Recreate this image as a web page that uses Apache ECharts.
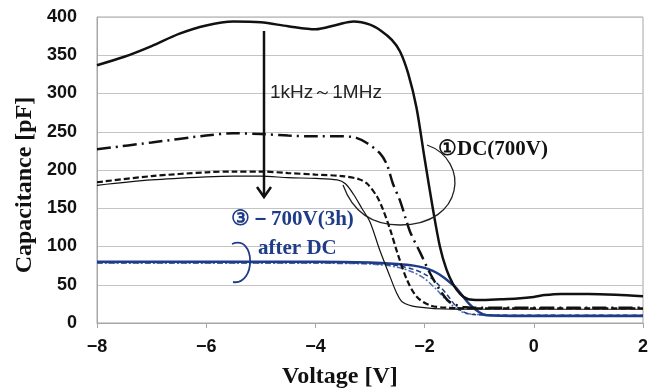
<!DOCTYPE html>
<html>
<head>
<meta charset="utf-8">
<script src="https://cdn.jsdelivr.net/npm/echarts@6/dist/echarts.min.js"></script>
<style>
  html, body { margin: 0; padding: 0; background: #fff; }
  #chart { width: 665px; height: 390px; }
</style>
</head>
<body>
<div id="chart"></div>
<script>
// C-V curves, [voltage V, capacitance pF]
const dcThick = [[-8,337],[-7.5,348],[-7,362],[-6.5,378],[-6,389],[-5.5,394],[-5,393],[-4.5,388],[-4,384],[-3.6,390],[-3.3,394],[-3,390],[-2.8,382],[-2.6,370],[-2.45,355],[-2.3,326],[-2.15,282],[-2,215],[-1.85,150],[-1.72,100],[-1.6,70],[-1.48,51],[-1.35,38],[-1.2,31],[-1,30],[-0.6,31],[-0.3,32],[0,34],[0.2,36.5],[0.5,38],[1,38],[1.5,37],[2,35]];
const dcDashDot = [[-8,227],[-7,236],[-6,245],[-5.5,248],[-5,247],[-4.5,245],[-4,244],[-3.5,244],[-3.25,242],[-3.05,235],[-2.82,222],[-2.69,207],[-2.58,182],[-2.45,160],[-2.27,120],[-2.08,92],[-1.9,65],[-1.72,43],[-1.55,28],[-1.3,21],[-1,20],[0,20],[1,20],[2,20]];
const dcDashed = [[-8,184],[-7,192],[-6,197],[-5.5,198],[-5,198],[-4.5,196],[-4,194],[-3.5,192],[-3.2,188],[-3.05,182],[-2.87,165],[-2.76,148],[-2.63,122],[-2.5,92],[-2.32,56],[-2.14,34],[-1.9,23],[-1.6,20],[-1,19],[2,19]];
const dcThin = [[-8,180],[-7,187],[-6,191],[-5.5,192],[-5,192],[-4.5,190],[-4,189],[-3.6,187],[-3.45,182],[-3.3,168],[-3.15,150],[-3,132],[-2.82,95],[-2.63,60],[-2.51,39],[-2.4,27],[-2.14,21],[-1.5,18],[2,18]];
const afterSolid = [[-8,80],[-6,80],[-4,80],[-3,79],[-2.5,77],[-2.2,75],[-2,72],[-1.85,68],[-1.72,63],[-1.55,54],[-1.41,45],[-1.3,35],[-1.17,24],[-1,14],[-0.86,10],[0,9],[2,9]];
const afterDashed = [[-8,79],[-4,79],[-3,78],[-2.5,75],[-2.2,70],[-2,64],[-1.8,54],[-1.6,38],[-1.45,24],[-1.3,15],[-1.1,11],[0,10],[2,10]];
const afterDashDot = [[-8,78],[-4,78],[-3,77],[-2.5,73],[-2.2,66],[-2,58],[-1.8,45],[-1.6,30],[-1.4,18],[-1.2,12],[0,10],[2,10]];

const navy = '#1f3c88';
const serif = '"Liberation Serif", "Times New Roman", serif';
const sans = '"Liberation Sans", Arial, sans-serif';

const chart = echarts.init(document.getElementById('chart'));

const curve = (name, data, color, width, type) => ({
  name, type: 'line', data, smooth: 0.3, symbol: 'none',
  lineStyle: { color, width, type }, z: 3
});

chart.setOption({
  animation: false,
  grid: { left: 97, right: 22, top: 17, bottom: 67, show: true, borderColor: '#a6a6a6', borderWidth: 1 },
  xAxis: {
    type: 'value', min: -8, max: 2, interval: 2,
    axisLine: { onZero: false, lineStyle: { color: '#a6a6a6' } },
    axisTick: { show: true, length: 5, lineStyle: { color: '#a6a6a6' } },
    splitLine: { show: false },
    axisLabel: {
      margin: 15, color: '#111', fontSize: 18, fontWeight: 'bold', fontFamily: sans,
      formatter: v => v < 0 ? '\u2212' + (-v) : String(v)
    }
  },
  yAxis: {
    type: 'value', min: 0, max: 400, interval: 50,
    axisLine: { show: true, onZero: false, lineStyle: { color: '#a6a6a6' } },
    axisTick: { show: false },
    splitLine: { lineStyle: { color: '#c4c4c4', width: 1 } },
    axisLabel: { margin: 20, color: '#111', fontSize: 18, fontWeight: 'bold', fontFamily: sans }
  },
  series: [
    curve('after DC dash-dot', afterDashDot, '#4f6fb0', 1.5, [6, 2, 2, 2]),
    curve('after DC dashed', afterDashed, navy, 1.5, [5, 3]),
    curve('after DC', afterSolid, navy, 2.5, 'solid'),
    curve('DC thin', dcThin, '#111', 1.2, 'solid'),
    curve('DC dashed', dcDashed, '#111', 2.2, [6, 3]),
    curve('DC dash-dot', dcDashDot, '#111', 2.5, [14, 5, 2, 5]),
    curve('DC thick', dcThick, '#111', 2.5, 'solid')
  ],
  graphic: [
    { type: 'text', x: 282, y: 377, style: { text: 'Voltage [V]', font: 'bold 24px ' + serif, fill: '#111', verticalAlign: 'middle' } },
    { type: 'text', x: 25, y: 185, rotation: Math.PI / 2, style: { text: 'Capacitance [pF]', font: 'bold 24px ' + serif, fill: '#111', align: 'center', verticalAlign: 'middle' } },
    // frequency arrow
    { type: 'line', shape: { x1: 264, y1: 31, x2: 264, y2: 197 }, style: { stroke: '#111', lineWidth: 2.5 }, z: 10 },
    { type: 'polyline', shape: { points: [[257, 187], [264, 197], [271, 187]] }, style: { stroke: '#111', lineWidth: 2.5, fill: null }, z: 10 },
    { type: 'text', x: 270, y: 93, style: { text: '1kHz～1MHz', font: '19px ' + sans, fill: '#222', verticalAlign: 'middle' }, z: 10 },
    // DC(700V) label and its loop
    { type: 'text', x: 438, y: 150, style: { text: '①DC(700V)', font: 'bold 21px ' + serif, fill: '#111', verticalAlign: 'middle' }, z: 10 },
    { type: 'bezierCurve', shape: { x1: 427, y1: 145, cpx1: 470, cpy1: 160, cpx2: 465, cpy2: 225, x2: 400, y2: 225 }, style: { stroke: '#222', lineWidth: 1.3, fill: null }, z: 10 },
    { type: 'bezierCurve', shape: { x1: 400, y1: 225, cpx1: 370, cpy1: 225, cpx2: 352, cpy2: 210, x2: 343, y2: 185 }, style: { stroke: '#222', lineWidth: 1.3, fill: null }, z: 10 },
    // -700V(3h) after DC label and bracket
    { type: 'text', x: 231, y: 220, style: { text: '③－700V(3h)', font: 'bold 21px ' + serif, fill: navy, verticalAlign: 'middle' }, z: 10 },
    { type: 'text', x: 258, y: 249, style: { text: 'after DC', font: 'bold 21px ' + serif, fill: navy, verticalAlign: 'middle' }, z: 10 },
    { type: 'bezierCurve', shape: { x1: 232, y1: 244, cpx1: 256, cpy1: 234, cpx2: 256, cpy2: 286, x2: 233, y2: 282 }, style: { stroke: navy, lineWidth: 1.8, fill: null }, z: 10 }
  ]
});
</script>
</body>
</html>
